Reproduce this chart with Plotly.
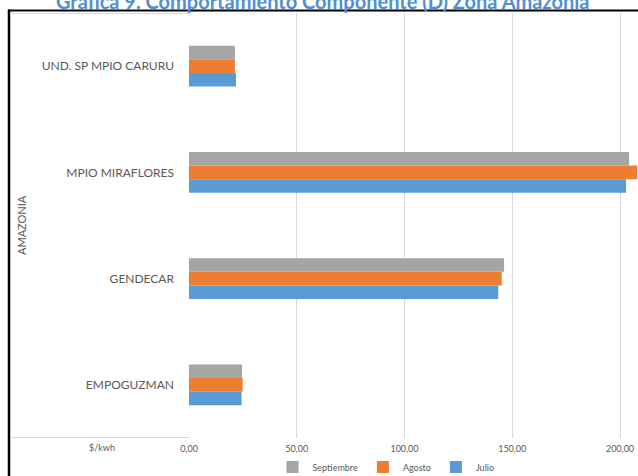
import plotly.graph_objects as go

categories = ["EMPOGUZMAN", "GENDECAR", "MPIO MIRAFLORES", "UND. SP MPIO CARURU"]
julio = [24.4, 143.5, 202.8, 21.8]
agosto = [24.9, 145.1, 208.0, 21.3]
septiembre = [24.6, 146.2, 204.2, 21.3]
tick_vals = [0, 50, 100, 150, 200]
tick_text = ["0,00", "50,00", "100,00", "150,00", "200,00"]

W, H = 638, 476
L, R, T, B = 189, 0, 13, 38
pw, ph = W - L - R, H - T - B

def px(x):
    return (x - L) / pw

def py(y):
    return (H - B - y) / ph

fig = go.Figure()
fig.add_trace(go.Bar(y=categories, x=julio, name="Julio", orientation="h",
                     marker=dict(color="#5B9BD5", line=dict(width=0))))
fig.add_trace(go.Bar(y=categories, x=agosto, name="Agosto", orientation="h",
                     marker=dict(color="#ED7D31", line=dict(width=0))))
fig.add_trace(go.Bar(y=categories, x=septiembre, name="Septiembre", orientation="h",
                     marker=dict(color="#A5A5A5", line=dict(width=0))))

grey = "#595959"
shapes = [
    # black frame
    dict(type="line", xref="paper", yref="paper", x0=px(9), x1=px(9), y0=py(9.5), y1=py(480),
         line=dict(color="black", width=2.5)),
    dict(type="line", xref="paper", yref="paper", x0=px(8), x1=px(645), y0=py(10.5), y1=py(10.5),
         line=dict(color="black", width=2)),
    # category box
    dict(type="line", xref="paper", yref="paper", x0=px(10), x1=px(189), y0=py(13.5), y1=py(13.5),
         line=dict(color="#D9D9D9", width=1)),
    dict(type="line", xref="paper", yref="paper", x0=px(10), x1=px(189), y0=py(437.5), y1=py(437.5),
         line=dict(color="#D9D9D9", width=1)),
]

annotations = [
    dict(text="<b>Gráfica 9. Comportamiento Componente (D) Zona Amazonia</b>", xref="paper", yref="paper",
         x=px(322), y=py(0.5), xanchor="center", yanchor="middle", showarrow=False,
         font=dict(family="Lato", size=20, color="#4F8FD0")),
    dict(text="AMAZONIA", xref="paper", yref="paper", x=px(22), y=py(225), textangle=-90,
         xanchor="center", yanchor="middle", showarrow=False,
         font=dict(family="Lato", size=11, color=grey)),
    dict(text="$/kwh", xref="paper", yref="paper", x=px(102), y=py(447),
         xanchor="center", yanchor="middle", showarrow=False,
         font=dict(family="Lato", size=9, color=grey)),
]

fig.update_layout(
    width=W, height=H,
    margin=dict(l=L, r=R, t=T, b=B, pad=0, autoexpand=False),
    paper_bgcolor="white", plot_bgcolor="white",
    barmode="group", bargap=0.616, bargroupgap=0,
    showlegend=True,
    legend=dict(orientation="h", x=px(386), xanchor="center", y=py(467), yanchor="middle",
                traceorder="reversed", itemwidth=30,
                font=dict(family="Lato", size=9, color=grey)),
    xaxis=dict(range=[0, 208.35], tickvals=tick_vals, ticktext=tick_text,
               showgrid=True, gridcolor="#D9D9D9", gridwidth=1, zeroline=False,
               showline=False, ticks="", ticklabelstandoff=4,
               tickfont=dict(family="Lato", size=9, color=grey)),
    yaxis=dict(type="category", showgrid=False, zeroline=False, showline=False,
               ticks="", ticklabelstandoff=14,
               tickfont=dict(family="Lato", size=12, color=grey)),
    shapes=shapes, annotations=annotations,
)

fig.write_html("out.html")
